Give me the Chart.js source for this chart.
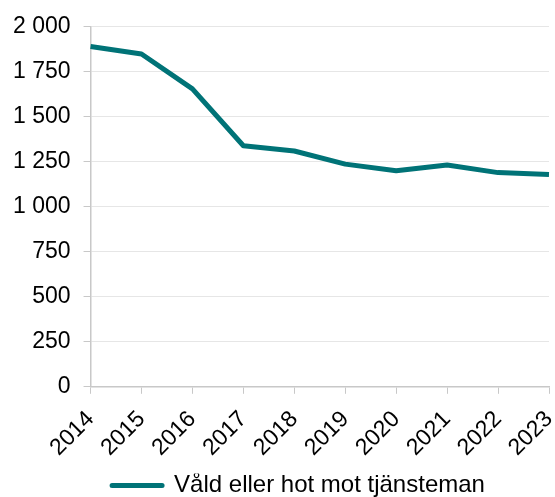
<!DOCTYPE html>
<html>
<head>
<meta charset="utf-8">
<script src="https://cdn.jsdelivr.net/npm/chart.js@4/dist/chart.umd.min.js"></script>
<style>
  body { margin: 0; background: #fff; }
  #wrap { width: 555px; height: 497px; }
</style>
</head>
<body>
<div id="wrap"><canvas id="chart" width="555" height="497"></canvas></div>
<script>
// data
var years = ['2014', '2015', '2016', '2017', '2018', '2019', '2020', '2021', '2022', '2023']
var cases = [1891, 1849, 1655, 1339, 1310, 1237, 1200, 1232, 1190, 1179]
var seriesName = 'Våld eller hot mot tjänsteman'
var yTicks = [0, 250, 500, 750, 1000, 1250, 1500, 1750, 2000]

var teal = '#007377'
var axisGrey = '#c8c8c8'

function spaced(v) {
    return String(v).replace(/\B(?=(\d{3})+(?!\d))/g, ' ')
}

// legend sits a bit right of centre in the original
var legendNudge = {
    id: 'legendNudge',
    afterLayout: function(chart) {
        chart.legend.left += 24
        chart.legend.right += 24
    }
}

Chart.defaults.font.family = '"Liberation Sans", Arial, sans-serif'
Chart.defaults.font.size = 23
Chart.defaults.color = '#000'

var ctx = document.getElementById('chart').getContext('2d')
new Chart(ctx, {
    type: 'line',
    data: {
        labels: years,
        datasets: [{
            label: seriesName,
            data: cases,
            borderColor: teal,
            backgroundColor: teal,
            borderWidth: 5,
            borderJoinStyle: 'round',
            pointRadius: 0,
            tension: 0,
            fill: false
        }]
    },
    plugins: [legendNudge],
    options: {
        responsive: false,
        animation: false,
        layout: { padding: { left: 0, right: 6, top: -1, bottom: -10.5 } },
        plugins: {
            tooltip: { enabled: false },
            legend: {
                position: 'bottom',
                labels: {
                    boxWidth: 50,
                    boxHeight: 0,
                    padding: 0,
                    font: { size: 24 }
                }
            }
        },
        scales: {
            x: {
                offset: false,
                border: { color: axisGrey, width: 1.5 },
                grid: { drawOnChartArea: false, drawTicks: true, tickLength: 7, color: axisGrey },
                ticks: { maxRotation: 45, minRotation: 45, padding: 12 },
                afterFit: function(axis) {
                    // rotated labels end at the tick, no room needed on the right
                    axis.paddingRight = 0
                }
            },
            y: {
                min: 0,
                max: 2000,
                afterBuildTicks: function(axis) {
                    axis.ticks = yTicks.map(function(v) { return { value: v } })
                },
                border: { color: axisGrey, width: 1.5 },
                grid: { color: '#e6e6e6', tickLength: 7, tickColor: axisGrey },
                ticks: {
                    padding: 13,
                    callback: function(v) { return spaced(v) }
                }
            }
        }
    }
})
</script>
</body>
</html>
